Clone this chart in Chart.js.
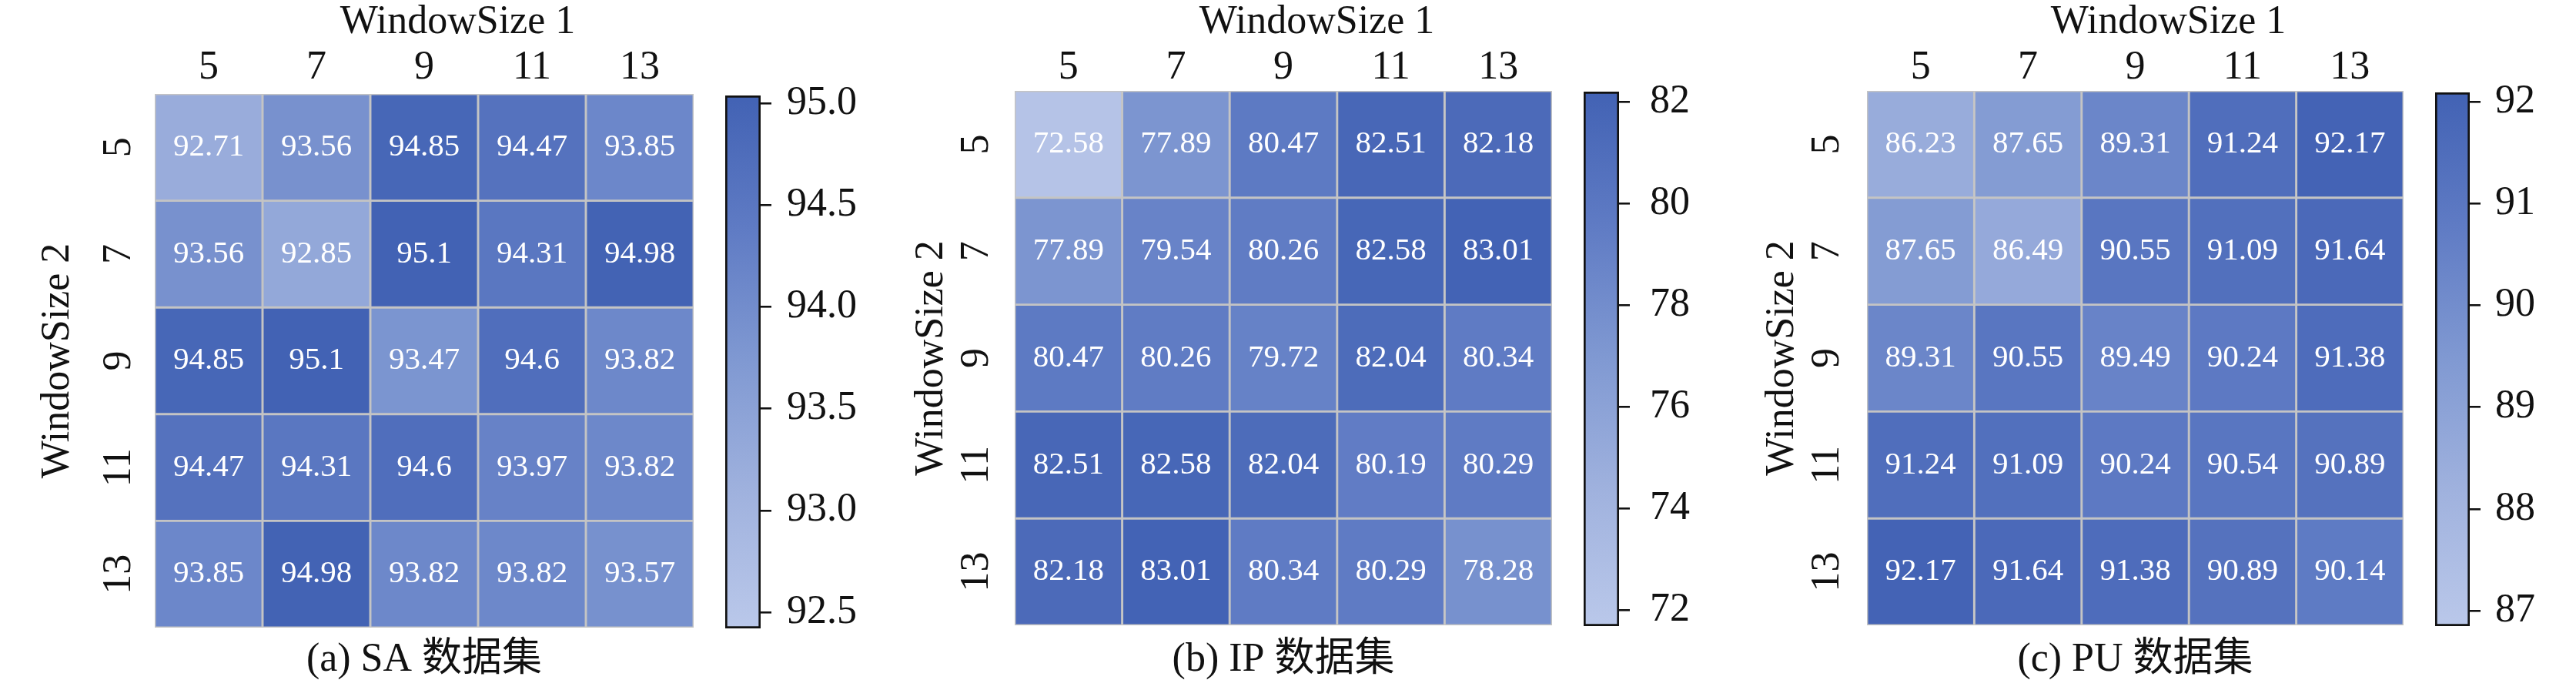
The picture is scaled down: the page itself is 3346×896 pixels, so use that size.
<!DOCTYPE html>
<html lang="en">
<head>
    <meta charset="UTF-8">
    <title>WindowSize heatmaps</title>
    <script src="https://cdn.jsdelivr.net/npm/chart.js"></script>
    <style>
        html, body { margin: 0; padding: 0; background: #ffffff; width: 3346px; height: 896px; overflow: hidden; }
        canvas { position: absolute; top: 0; }
        #font-warm { position: absolute; left: -9999px; top: 0; font-family: "Liberation Serif", "Noto Sans CJK SC", serif; font-size: 52px; }
    </style>
</head>
<body>
    <!-- makes sure the serif face is loaded before the canvases measure text -->
    <div id="font-warm">WindowSize 0123456789 (a) SA 数据集</div>
    <script>
        // --- Data ---
        const colLabels = ['5', '7', '9', '11', '13'];   // WindowSize 1
        const rowLabels = ['5', '7', '9', '11', '13'];   // WindowSize 2

        const saValues = [
            [92.71, 93.56, 94.85, 94.47, 93.85],
            [93.56, 92.85, 95.1, 94.31, 94.98],
            [94.85, 95.1, 93.47, 94.6, 93.82],
            [94.47, 94.31, 94.6, 93.97, 93.82],
            [93.85, 94.98, 93.82, 93.82, 93.57]
        ];
        const ipValues = [
            [72.58, 77.89, 80.47, 82.51, 82.18],
            [77.89, 79.54, 80.26, 82.58, 83.01],
            [80.47, 80.26, 79.72, 82.04, 80.34],
            [82.51, 82.58, 82.04, 80.19, 80.29],
            [82.18, 83.01, 80.34, 80.29, 78.28]
        ];
        const puValues = [
            [86.23, 87.65, 89.31, 91.24, 92.17],
            [87.65, 86.49, 90.55, 91.09, 91.64],
            [89.31, 90.55, 89.49, 90.24, 91.38],
            [91.24, 91.09, 90.24, 90.54, 90.89],
            [92.17, 91.64, 91.38, 90.89, 90.14]
        ];

        const saTicks = ['92.5', '93.0', '93.5', '94.0', '94.5', '95.0'];
        const ipTicks = ['72', '74', '76', '78', '80', '82'];
        const puTicks = ['87', '88', '89', '90', '91', '92'];

        const saRange = [92.42, 95.04];   // colour bar extent
        const ipRange = [71.68, 82.2];
        const puRange = [86.85, 92.09];

        const captions = ['(a) SA 数据集', '(b) IP 数据集', '(c) PU 数据集'];

        // --- Style ---
        const FONT = '"Liberation Serif", "Noto Sans CJK SC", serif';
        const INK = '#111111';
        const TICK = 52, CELL = 41, TITLE = 52;
        const H = 896;
        const colorStops = [[0, '#bac8ea'], [0.25, '#a0b2de'], [0.5, '#8099d2'], [0.75, '#5f7bc4'], [1, '#4262b4']];

        // layout of each panel in page pixels
        const panels = [
            { values: saValues, ticks: saTicks, range: saRange, limits: [91.7, 95.0], caption: captions[0],
              x0: 0, x1: 1189, grid: { l: 201, r: 901, t: 122, b: 815 }, cb: { l: 942, r: 988, t: 124, b: 816 },
              yTitlePad: 49, rowPad: 20, colPad: 8, cbPad: 20 },
            { values: ipValues, ticks: ipTicks, range: ipRange, limits: [72.0, 83.1], caption: captions[1],
              x0: 1120, x1: 2301, grid: { l: 1318, r: 2016, t: 118, b: 812 }, cb: { l: 2057, r: 2103, t: 119, b: 813 },
              yTitlePad: 64, rowPad: 23, colPad: 4, cbPad: 26 },
            { values: puValues, ticks: puTicks, range: puRange, limits: [83.5, 92.3], caption: captions[2],
              x0: 2287, x1: 3346, grid: { l: 2425, r: 3122, t: 118, b: 812 }, cb: { l: 3163, r: 3208, t: 120, b: 813 },
              yTitlePad: 2, rowPad: 25, colPad: 4, cbPad: 19 }
        ];

        function hexToRgb(h) {
            return [1, 3, 5].map(i => parseInt(h.slice(i, i + 2), 16));
        }

        function sampleMap(t) {
            for (let k = 1; k < colorStops.length; k++) {
                const [t1, c1] = colorStops[k];
                const [t0, c0] = colorStops[k - 1];
                if (t <= t1) {
                    const f = (t - t0) / (t1 - t0);
                    const a = hexToRgb(c0), b = hexToRgb(c1);
                    const rgb = a.map((v, i) => Math.round(v + (b[i] - v) * f));
                    return `rgb(${rgb.join(',')})`;
                }
            }
            return colorStops[colorStops.length - 1][1];
        }

        function cellColor(limits, v) {
            const t = Math.min(1, Math.max(0, (v - limits[0]) / (limits[1] - limits[0])));
            return sampleMap(t);
        }

        function barGradient(chart) {
            const area = chart.chartArea;
            if (!area) return colorStops[0][1];
            const g = chart.ctx.createLinearGradient(0, area.bottom, 0, area.top);
            colorStops.forEach(([t, c]) => g.addColorStop(t, c));
            return g;
        }

        function addCanvas(left, width) {
            const c = document.createElement('canvas');
            c.width = width;
            c.height = H;
            c.style.left = left + 'px';
            c.style.width = width + 'px';
            c.style.height = H + 'px';
            document.body.appendChild(c);
            return c;
        }

        // writes the value in the middle of every cell
        function cellText(values) {
            return {
                id: 'cellText',
                afterDatasetsDraw(chart) {
                    const ctx = chart.ctx;
                    ctx.save();
                    ctx.font = `${CELL}px ${FONT}`;
                    ctx.fillStyle = '#ffffff';
                    ctx.textAlign = 'center';
                    ctx.textBaseline = 'middle';
                    chart.data.datasets.forEach((ds, i) => {
                        chart.getDatasetMeta(i).data.forEach((bar, j) => {
                            ctx.fillText(String(values[i][j]), bar.x, (bar.y + bar.base) / 2);
                        });
                    });
                    ctx.restore();
                }
            };
        }

        const base = {
            responsive: false,
            animation: false,
            devicePixelRatio: 1,
            events: [],
            layout: { padding: 0 }
        };
        const tickFont = { family: FONT, size: TICK, lineHeight: 1 };

        function makeHeatmap(p) {
            const canvas = addCanvas(p.x0, p.x1 - p.x0);
            const titleH = TITLE * 1.13;
            return new Chart(canvas, {
                type: 'bar',
                data: {
                    labels: colLabels,
                    datasets: rowLabels.map((row, i) => ({
                        label: row,
                        xAxisID: 'x',
                        yAxisID: 'y',
                        data: colLabels.map(() => [i - 0.5, i + 0.5]),
                        backgroundColor: ctx => cellColor(p.limits, p.values[i][ctx.dataIndex]),
                        borderColor: '#c4c4c4',
                        borderWidth: 1.8,
                        borderSkipped: false,
                        grouped: false,
                        barPercentage: 1,
                        categoryPercentage: 1
                    }))
                },
                options: {
                    ...base,
                    plugins: {
                        legend: { display: false },
                        tooltip: { enabled: false },
                        title: {
                            display: true, text: 'WindowSize 1', color: INK,
                            font: { family: FONT, size: TITLE, weight: 'normal', lineHeight: 1.13 },
                            padding: { top: 0, bottom: 0 }
                        }
                    },
                    scales: {
                        x: {
                            type: 'category', position: 'top', offset: true,
                            grid: { display: false, drawTicks: false }, border: { display: false },
                            ticks: { font: tickFont, color: INK, padding: p.colPad, maxRotation: 0, autoSkip: false },
                            afterFit: s => { s.height = p.grid.t - titleH; }
                        },
                        cap: {
                            type: 'category', position: 'bottom', labels: colLabels,
                            grid: { display: false, drawTicks: false }, border: { display: false },
                            ticks: { display: false },
                            title: {
                                display: true, text: p.caption, color: INK,
                                font: { family: FONT, size: TITLE, lineHeight: 1.2 },
                                padding: { top: 0, bottom: 7.8 }
                            },
                            afterFit: s => { s.height = H - p.grid.b; }
                        },
                        y: {
                            type: 'linear', position: 'left', reverse: true, bounds: 'data',
                            min: -0.5, max: rowLabels.length - 0.5,
                            afterBuildTicks: s => { s.ticks = rowLabels.map((_, i) => ({ value: i })); },
                            grid: { display: false, drawTicks: false }, border: { display: false },
                            ticks: {
                                callback: v => rowLabels[v], font: tickFont, color: INK, padding: p.rowPad,
                                minRotation: 90, maxRotation: 90, crossAlign: 'center', autoSkip: false
                            },
                            title: {
                                display: true, text: 'WindowSize 2', color: INK,
                                font: { family: FONT, size: TITLE, lineHeight: 1 },
                                padding: { top: p.yTitlePad, bottom: 0 }
                            },
                            afterFit: s => { s.width = p.grid.l - p.x0; }
                        },
                        pad: {
                            type: 'linear', position: 'right',
                            grid: { display: false, drawTicks: false }, border: { display: false },
                            ticks: { display: false },
                            afterFit: s => { s.width = p.x1 - p.grid.r; }
                        }
                    }
                },
                plugins: [cellText(p.values)]
            });
        }

        function makeColorbar(p) {
            const left = p.cb.l - 20, width = 230;
            const canvas = addCanvas(left, width);
            const [lo, hi] = p.range;
            return new Chart(canvas, {
                type: 'bar',
                data: {
                    labels: [''],
                    datasets: [{
                        data: [[lo, hi]],
                        backgroundColor: ctx => barGradient(ctx.chart),
                        borderColor: '#111111',
                        borderWidth: 3,
                        borderSkipped: false,
                        barPercentage: 1,
                        categoryPercentage: 1
                    }]
                },
                options: {
                    ...base,
                    layout: { padding: { left: 20, right: 0, top: p.cb.t, bottom: H - p.cb.b } },
                    plugins: { legend: { display: false }, tooltip: { enabled: false } },
                    scales: {
                        x: { display: false },
                        y: {
                            type: 'linear', position: 'right', min: lo, max: hi, bounds: 'data',
                            afterBuildTicks: s => { s.ticks = p.ticks.map(t => ({ value: parseFloat(t) })); },
                            ticks: { callback: (v, i) => p.ticks[i], font: tickFont, color: INK, padding: p.cbPad, autoSkip: false },
                            grid: { drawOnChartArea: false, drawTicks: true, tickLength: 14, color: INK, lineWidth: 2.6 },
                            border: { display: false },
                            afterFit: s => { s.width = width - 20 - (p.cb.r - p.cb.l); }
                        }
                    }
                }
            });
        }

        const charts = [];
        panels.forEach(p => { charts.push(makeHeatmap(p), makeColorbar(p)); });

        // redraw once the serif face is surely available, so text is measured with it
        Promise.all([
            document.fonts.load(`${TICK}px "Liberation Serif"`, 'WindowSize 0123456789'),
            document.fonts.load(`${TITLE}px "Noto Sans CJK SC"`, '数据集')
        ]).then(() => charts.forEach(c => c.update()));
    </script>
</body>
</html>
